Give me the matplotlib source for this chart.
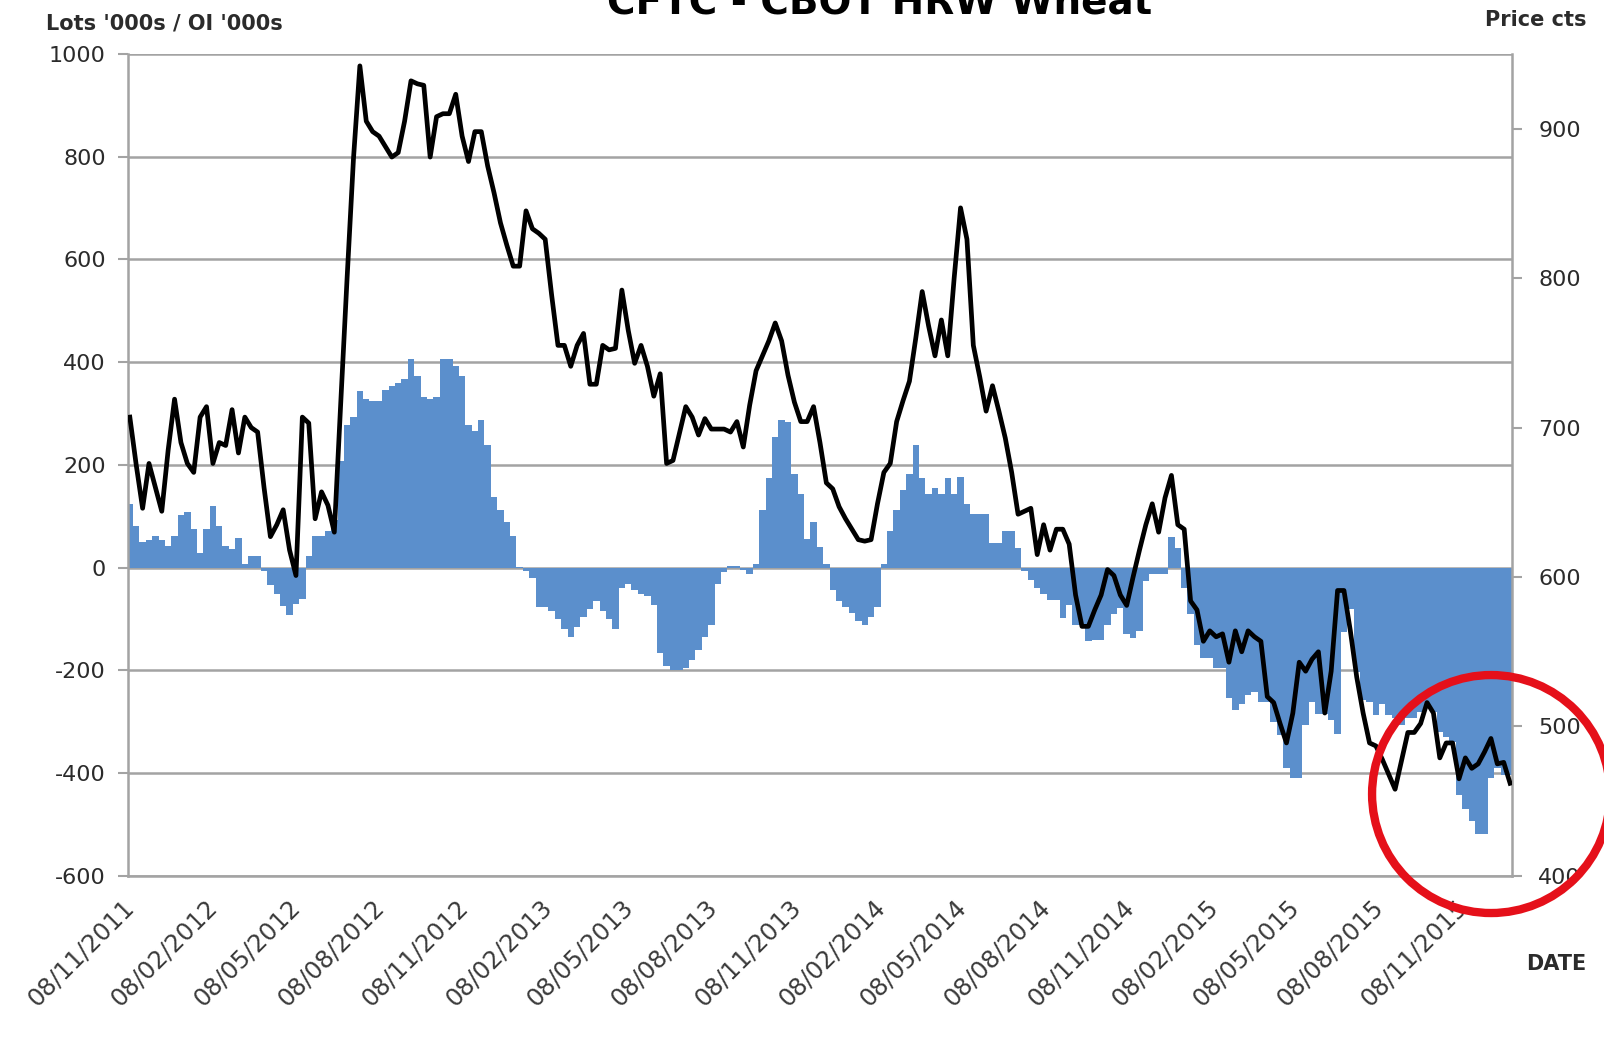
import matplotlib
matplotlib.use('Agg')
import matplotlib.pyplot as plt
from matplotlib.patches import Ellipse
import pandas as pd

# weekly CFTC report dates start here (Tuesdays)
first_week = '2011-11-08'

# net position, lots '000s (blue columns, left axis)
net_lots = [
    123, 82, 50, 54, 61, 54, 43, 61, 102, 109,
    75, 29, 75, 120, 82, 43, 36, 57, 8, 22,
    22, -6, -33, -51, -75, -92, -70, -60, 22, 61,
    61, 71, 92, 207, 277, 294, 343, 329, 325, 325,
    346, 353, 360, 367, 406, 374, 332, 329, 332, 406,
    406, 392, 374, 277, 266, 287, 238, 137, 113, 88,
    61, 2, -6, -20, -76, -76, -84, -100, -120, -135,
    -116, -96, -80, -64, -84, -100, -120, -40, -32, -44,
    -52, -56, -72, -167, -191, -199, -199, -195, -180, -160,
    -135, -112, -32, -8, 4, 4, -4, -12, 8, 112,
    175, 255, 287, 283, 183, 143, 56, 88, 40, 8,
    -44, -64, -76, -88, -104, -112, -96, -76, 8, 72,
    112, 151, 183, 239, 175, 143, 155, 143, 175, 143,
    176, 124, 104, 104, 104, 49, 49, 72, 72, 39,
    -7, -23, -39, -52, -62, -62, -98, -72, -111, -111,
    -143, -140, -140, -111, -91, -78, -130, -137, -124, -26,
    -13, -13, -13, 59, 39, -40, -90, -150, -176, -176,
    -195, -195, -254, -277, -265, -248, -242, -261, -261, -300,
    -326, -390, -410, -410, -306, -261, -284, -284, -297, -323,
    -126, -80, -203, -258, -261, -287, -265, -287, -293, -306,
    -293, -293, -280, -269, -280, -320, -329, -340, -442, -470,
    -493, -519, -519, -410, -390, -403, -403,
]

# HRW wheat price, cents (black line, right axis)
price_cts = [
    707, 675, 646, 676, 660, 644, 685, 719, 690, 676,
    670, 707, 714, 676, 690, 688, 712, 683, 707, 700,
    697, 660, 627, 635, 645, 618, 601, 707, 703, 639,
    657, 648, 630, 716, 800, 880, 942, 905, 898, 895,
    888, 881, 884, 905, 932, 930, 929, 881, 908, 910,
    910, 923, 895, 878, 898, 898, 875, 857, 837, 822,
    808, 808, 845, 833, 830, 826, 789, 755, 755, 741,
    755, 763, 729, 729, 755, 752, 753, 792, 765, 743,
    755, 741, 721, 736, 676, 678, 696, 714, 707, 695,
    706, 699, 699, 699, 697, 704, 687, 715, 738, 748,
    758, 770, 758, 735, 717, 704, 704, 714, 690, 663,
    659, 647, 639, 632, 625, 624, 625, 649, 670, 676,
    704, 718, 731, 760, 791, 768, 748, 772, 748, 800,
    847, 826, 755, 734, 711, 728, 711, 693, 670, 642,
    644, 646, 615, 635, 618, 632, 632, 622, 588, 567,
    567, 578, 588, 605, 601, 588, 581, 600, 618, 635,
    649, 630, 653, 668, 635, 632, 584, 578, 557, 564,
    560, 562, 543, 564, 550, 564, 560, 557, 520, 516,
    502, 489, 509, 543, 537, 545, 550, 509, 537, 591,
    591, 564, 533, 509, 489, 487, 478, 468, 458, 477,
    496, 496, 502, 516, 509, 479, 489, 489, 465, 479,
    472, 475, 483, 492, 475, 476, 462,
]

tick_labels = ['08/11/2011', '08/02/2012', '08/05/2012', '08/08/2012',
               '08/11/2012', '08/02/2013', '08/05/2013', '08/08/2013',
               '08/11/2013', '08/02/2014', '08/05/2014', '08/08/2014',
               '08/11/2014', '08/02/2015', '08/05/2015', '08/08/2015',
               '08/11/2015']
left_ticks = [-600, -400, -200, 0, 200, 400, 600, 800, 1000]
right_ticks = [400, 500, 600, 700, 800, 900]

dates = pd.date_range(first_week, periods=len(net_lots), freq='7D')
tick_dates = pd.to_datetime(tick_labels, format='%d/%m/%Y')

plt.rcParams['font.family'] = 'DejaVu Sans'
grey = '#a3a3a3'
txt = '#2b2b2b'

fig = plt.figure(figsize=(16.04, 10.37), dpi=100)
ax = fig.add_axes([0.0798, 0.1553, 0.8628, 0.7927])

ax.bar(dates, net_lots, width=7, color='#5b8fcc', linewidth=0, zorder=2)
ax.set_ylim(-600, 1000)
ax.set_yticks(left_ticks)
ax.set_yticklabels([str(v) for v in left_ticks])
ax.set_xlim(dates[0] - pd.Timedelta(days=2), dates[-1] + pd.Timedelta(days=2))
ax.set_xticks(tick_dates)
ax.set_xticklabels(tick_labels, rotation=45, ha='right', va='center',
                   rotation_mode='anchor')
ax.grid(axis='y', color=grey, linewidth=1.8)
ax.set_axisbelow(True)
ax.tick_params(axis='y', length=7, width=1.5, color=grey, pad=9,
               labelsize=16, labelcolor=txt)
ax.tick_params(axis='x', length=0, pad=20, labelsize=17.5, labelcolor='#3a3a3a')
for s in ['left', 'bottom']:
    ax.spines[s].set_color(grey)
    ax.spines[s].set_linewidth(1.8)
ax.spines['top'].set_visible(False)
ax.spines['right'].set_visible(False)

ax2 = ax.twinx()
ax2.plot(dates, price_cts, color='black', linewidth=3.4, zorder=3)
ax2.set_ylim(400, 950)
ax2.set_yticks(right_ticks)
ax2.tick_params(axis='y', length=7, width=1.5, color=grey, pad=12,
                labelsize=16, labelcolor=txt)
ax2.spines['right'].set_color(grey)
ax2.spines['right'].set_linewidth(1.8)
for s in ['left', 'top', 'bottom']:
    ax2.spines[s].set_visible(False)

# the title sits partly above the top edge, as in the source screenshot
fig.text(0.5486, 0.9865, 'CFTC - CBOT HRW Wheat', ha='center', va='baseline',
         fontsize=28, fontweight='bold', color='black')
fig.text(0.0287, 0.977, "Lots '000s / OI '000s", ha='left', va='center',
         fontsize=15, fontweight='bold', color=txt)
fig.text(0.9888, 0.981, 'Price cts', ha='right', va='center',
         fontsize=15, fontweight='bold', color=txt)
fig.text(0.9888, 0.0704, 'DATE', ha='right', va='center',
         fontsize=15, fontweight='bold', color=txt)

ring = Ellipse((0.9296, 0.2343), width=0.1484, height=0.2295,
               transform=fig.transFigure, fill=False, edgecolor='#e5101a',
               linewidth=6, zorder=10, clip_on=False)
fig.add_artist(ring)

fig.savefig('out.png', dpi=100, facecolor='white')
